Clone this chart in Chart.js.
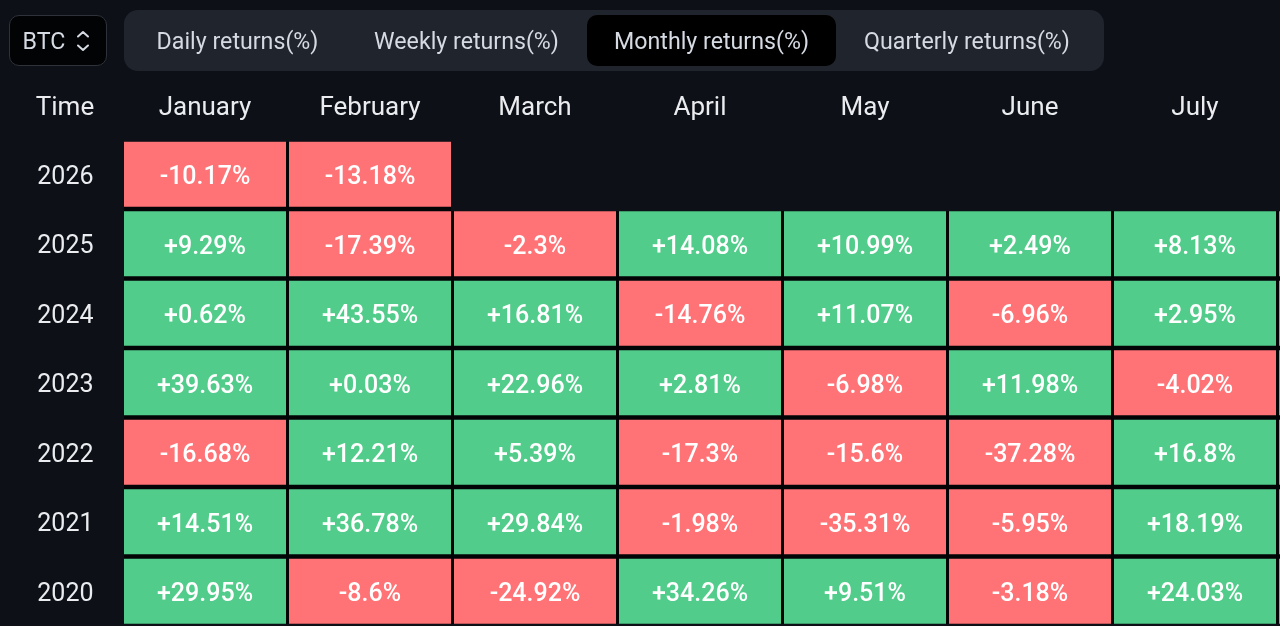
<!DOCTYPE html>
<html>
<head>
<meta charset="utf-8">
<title>BTC monthly returns</title>
<script src="https://cdn.jsdelivr.net/npm/chart.js@4"></script>
<style>
  html, body { margin: 0; padding: 0; width: 1280px; height: 626px; overflow: hidden; background: #0d1017; }
  body { position: relative; font-family: Roboto, sans-serif; }
  canvas { position: absolute; left: 0; top: 0; }
  .box { position: absolute; box-sizing: border-box; }
  .coin { left: 9px; top: 15px; width: 98px; height: 51px; background: #020305; border: 1px solid #2f323a; border-radius: 10px; }
  .pill { left: 124px; top: 10px; width: 980px; height: 61px; background: #20242d; border-radius: 14px; }
  .active { left: 587px; top: 15px; width: 249px; height: 51px; background: #000; border-radius: 10px; }
  .lbl { position: absolute; top: 40.5px; transform: translate(-50%, -50%); color: #d5dae3; font-size: 23.2px; white-space: nowrap; line-height: 30px; }
  .time { top: 106px; color: #eaecef; font-size: 26px; }
  svg { position: absolute; left: 74px; top: 26px; }
</style>
</head>
<body>
<canvas id="heatmap" width="1443" height="626"></canvas>
<div class="box coin"></div>
<div class="box pill"></div>
<div class="box active"></div>
<div class="lbl" style="left:44px">BTC</div>
<svg width="18" height="28" viewBox="0 0 18 28" fill="none" stroke="#d5dae3" stroke-width="2" stroke-linecap="round" stroke-linejoin="round">
  <path d="M4 10.5 L9 6 L14 10.5"/><path d="M4 19.5 L9 24 L14 19.5"/>
</svg>
<div class="lbl" style="left:237.5px">Daily returns(%)</div>
<div class="lbl" style="left:466.5px">Weekly returns(%)</div>
<div class="lbl" style="left:711.5px">Monthly returns(%)</div>
<div class="lbl" style="left:967px">Quarterly returns(%)</div>
<div class="lbl time" style="left:65px">Time</div>

<script>
/* =========================
   Data
========================= */
const months = ["January", "February", "March", "April", "May", "June", "July", "August"];
const years = [2026, 2025, 2024, 2023, 2022, 2021, 2020];

// August is cut off by the window, only the sign shows at the right edge (values estimated)
const returns2026 = [-10.17, -13.18, null, null, null, null, null, null];
const returns2025 = [9.29, -17.39, -2.3, 14.08, 10.99, 2.49, 8.13, -6.5];
const returns2024 = [0.62, 43.55, 16.81, -14.76, 11.07, -6.96, 2.95, -8.6];
const returns2023 = [39.63, 0.03, 22.96, 2.81, -6.98, 11.98, -4.02, -11.3];
const returns2022 = [-16.68, 12.21, 5.39, -17.3, -15.6, -37.28, 16.8, -13.9];
const returns2021 = [14.51, 36.78, 29.84, -1.98, -35.31, -5.95, 18.19, 13.8];
const returns2020 = [29.95, -8.6, -24.92, 34.26, 9.51, -3.18, 24.03, 2.8];

const rows = [returns2026, returns2025, returns2024, returns2023, returns2022, returns2021, returns2020];

/* =========================
   Styles
========================= */
const UP_COLOR = "#52cc8a";
const DOWN_COLOR = "#ff7276";
const GAP_COLOR = "#030406";
const FONT = "Roboto, sans-serif";
const ROW_FILL = 0.935; // cell height / row pitch

function formatReturn(val) {
  return `${val > 0 ? "+" : ""}${val}%`;
}

/* =========================
   Plugins
========================= */
// black gutters between neighbouring cells
const cellGaps = {
  id: "cellGaps",
  beforeDatasetsDraw(chart) {
    const { ctx } = chart;
    ctx.save();
    ctx.fillStyle = GAP_COLOR;
    chart.data.datasets.forEach((ds, r) => {
      chart.getDatasetMeta(r).data.forEach((bar, c) => {
        if (ds.returns[c] === null) return;
        const p = bar.getProps(["x", "y", "base", "width"], true);
        const rowH = Math.abs(p.base - p.y);
        const gapY = rowH / ROW_FILL - rowH;
        const colW = chart.scales.x.getPixelForTick(1) - chart.scales.x.getPixelForTick(0);
        const nextFilled = ds.returns[c + 1] !== null && c + 1 < months.length;
        const lastRow = r === rows.length - 1;
        ctx.fillRect(
          p.x - p.width / 2,
          p.y,
          p.width + (nextFilled ? colW - p.width : 0),
          rowH + (lastRow ? 0 : gapY)
        );
      });
    });
    ctx.restore();
  }
};

const cellLabels = {
  id: "cellLabels",
  afterDatasetsDraw(chart) {
    const { ctx } = chart;
    ctx.save();
    ctx.font = `500 25px ${FONT}`;
    ctx.fillStyle = "#ffffff";
    ctx.textAlign = "center";
    ctx.textBaseline = "middle";
    chart.data.datasets.forEach((ds, r) => {
      chart.getDatasetMeta(r).data.forEach((bar, c) => {
        if (ds.returns[c] === null) return;
        const pos = bar.getCenterPoint(true);
        ctx.fillText(formatReturn(ds.returns[c]), pos.x, pos.y + 3.5);
      });
    });
    ctx.restore();
  }
};

/* =========================
   Chart
========================= */
new Chart(document.getElementById("heatmap"), {
  type: "bar",
  data: {
    labels: months,
    datasets: rows.map((row, r) => ({
      label: String(years[r]),
      returns: row,
      data: row.map(v => (v === null ? null : [years[r] - ROW_FILL / 2, years[r] + ROW_FILL / 2])),
      backgroundColor: row.map(v => (v > 0 ? UP_COLOR : DOWN_COLOR)),
      grouped: false,
      barPercentage: 162 / 165,
      categoryPercentage: 1,
      borderWidth: 0,
      inflateAmount: 0
    }))
  },
  options: {
    responsive: false,
    animation: false,
    events: [],
    layout: { padding: { right: 0.5 } },
    plugins: {
      legend: { display: false },
      tooltip: { enabled: false }
    },
    scales: {
      x: {
        position: "top",
        grid: { display: false, drawTicks: false },
        border: { display: false },
        afterFit(scale) { scale.height = 139.5; },
        ticks: {
          color: "#eaecef",
          font: { family: FONT, size: 26 },
          padding: 15,
          maxRotation: 0,
          autoSkip: false
        }
      },
      y: {
        min: 2019.5,
        max: 2026.5,
        grid: { display: false, drawTicks: false },
        border: { display: false },
        // the tick padding only places the labels, keep it out of the chart area
        afterFit(scale) {
          scale.width = 122.5;
          scale.paddingTop = 0;
          scale.paddingBottom = 0;
        },
        afterBuildTicks(scale) { scale.ticks = years.map(value => ({ value })); },
        ticks: {
          color: "#eaecef",
          font: { family: FONT, size: 25 },
          crossAlign: "center",
          padding: 29,
          labelOffset: 3,
          callback: value => String(value)
        }
      }
    }
  },
  plugins: [cellGaps, cellLabels]
});
</script>
</body>
</html>
